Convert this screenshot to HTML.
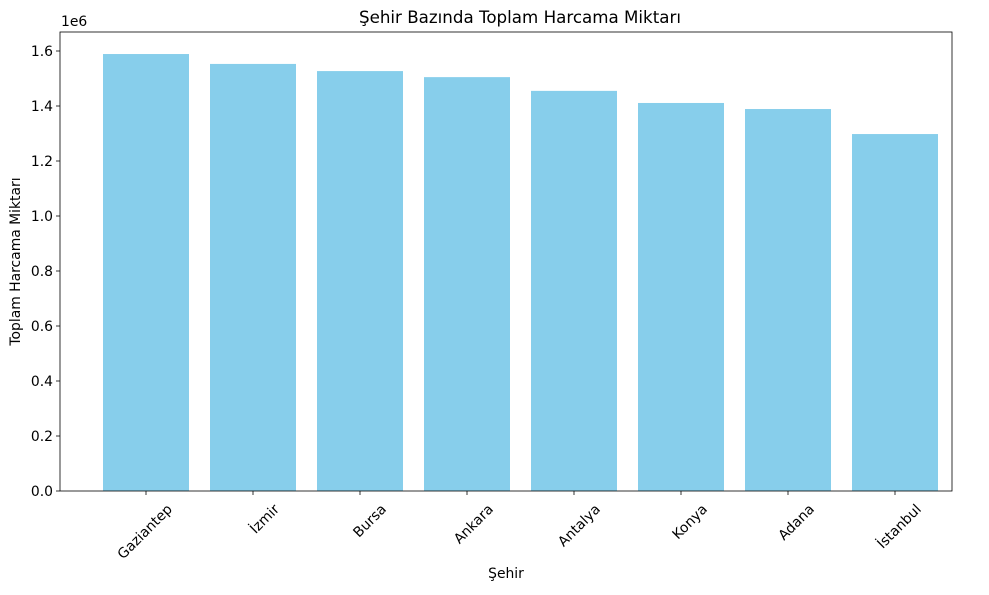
<!DOCTYPE html>
<html><head><meta charset="utf-8"><style>body{margin:0;background:#fff}svg{font-family:"DejaVu Sans","Liberation Sans",sans-serif}</style></head>
<body>
<svg id="c" width="989" height="590"></svg>
<script>
const categories=["Gaziantep","İzmir","Bursa","Ankara","Antalya","Konya","Adana","İstanbul"];
const values=[1.589e6,1.553e6,1.527e6,1.505e6,1.455e6,1.411e6,1.389e6,1.298e6];
const yTicks=[0,0.2e6,0.4e6,0.6e6,0.8e6,1.0e6,1.2e6,1.4e6,1.6e6];
const yTickLabels=["0.0","0.2","0.4","0.6","0.8","1.0","1.2","1.4","1.6"];
const L=60,R=952,T=32,B=491;
const x0=146,step=107,bw=86;
const FS=13.9;
function xs(i){return x0+i*step;}
function ys(v){return B-v/1e6*275;}
const svg=document.getElementById('c');const NS='http://www.w3.org/2000/svg';
function mk(t,a,txt){const e=document.createElementNS(NS,t);for(const k in a)e.setAttribute(k,a[k]);if(txt!==undefined)e.textContent=txt;svg.appendChild(e);return e;}
categories.forEach((c,i)=>{
 const b=mk('rect',{x:xs(i)-bw/2,y:ys(values[i]),width:bw,height:B-ys(values[i]),fill:'#87ceeb'});
 
 
 const tk=mk('line',{x1:xs(i),x2:xs(i),y1:B,y2:B+4,stroke:'#000','stroke-width':0.8});
 
 
 const ax=xs(i)+27,ay=B+19;
 const tx=mk('text',{x:ax,y:ay,'font-size':FS,'text-anchor':'end',transform:`rotate(-45 ${ax} ${ay})`},c);
 
 
});
yTicks.forEach((v,i)=>{
 const tk=mk('line',{x1:L-4,x2:L,y1:ys(v),y2:ys(v),stroke:'#000','stroke-width':0.8});
 
 
 const tx=mk('text',{x:L-7,y:ys(v)+5,'font-size':FS,'text-anchor':'end'},yTickLabels[i]);
 
 
});
const f=mk('rect',{x:L,y:T,width:R-L,height:B-T,fill:'none',stroke:'#000','stroke-width':0.8});


const e=mk('text',{x:L+1,y:T-6,'font-size':FS},'1e6');


const t=mk('text',{x:520,y:T-9,'font-size':16.7,'text-anchor':'middle'},'Şehir Bazında Toplam Harcama Miktarı');


const xt=mk('text',{x:(L+R)/2,y:578,'font-size':FS,'text-anchor':'middle'},'Şehir');


const yt=mk('text',{x:20,y:(T+B)/2,'font-size':FS,'text-anchor':'middle',transform:`rotate(-90 20 ${(T+B)/2})`},'Toplam Harcama Miktarı');


</script>
</body></html>
